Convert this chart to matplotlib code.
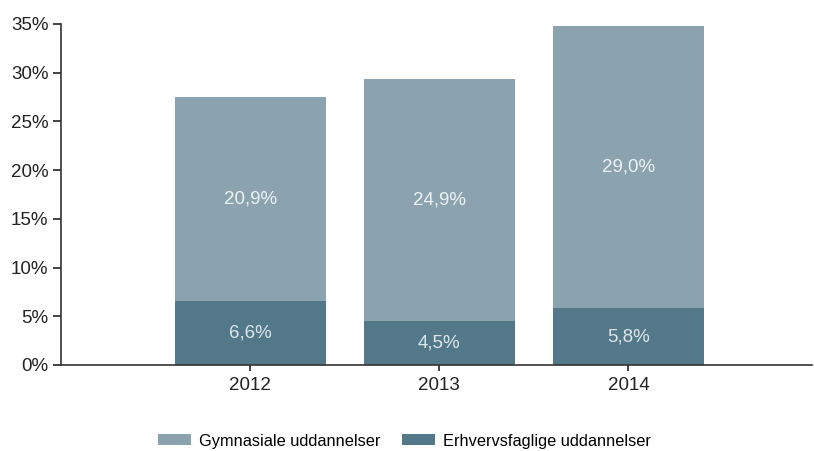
import matplotlib.pyplot as plt
import numpy as np

plt.rcParams['font.family'] = ['Liberation Sans', 'DejaVu Sans']

years = ['2012', '2013', '2014']
erhverv = [6.6, 4.5, 5.8]
gymnas = [20.9, 24.9, 29.0]
yticks = [0, 5, 10, 15, 20, 25, 30, 35]

light = '#8aa3ae'
dark = '#527889'

fig = plt.figure(figsize=(8.14, 4.51), dpi=100)
ax = fig.add_axes([0.075, 0.1907, 0.9225, 0.7561])

x = np.arange(len(years))
b1 = ax.bar(x, erhverv, width=0.8, color=dark, label='Erhvervsfaglige uddannelser')
b2 = ax.bar(x, gymnas, width=0.8, bottom=erhverv, color=light, label='Gymnasiale uddannelser')

for i in range(len(years)):
    ax.text(x[i], erhverv[i] / 2, f'{erhverv[i]:.1f}%'.replace('.', ','),
            ha='center', va='center', color='#dde6ea', fontsize=13.5)
    ax.text(x[i], erhverv[i] + gymnas[i] / 2, f'{gymnas[i]:.1f}%'.replace('.', ','),
            ha='center', va='center', color='#eef2f4', fontsize=13.5)

ax.set_xlim(-1.0, 2.97)
ax.set_ylim(0, 35)
ax.set_yticks(yticks)
ax.set_yticklabels([f'{v}%' for v in yticks])
ax.set_xticks(x)
ax.set_xticklabels(years)
ax.tick_params(axis='y', length=6, width=1.2, labelsize=13.5, colors='#222222', pad=3)
ax.tick_params(axis='x', length=4, width=1.2, labelsize=13.5, colors='#222222', pad=5)
for s in ['top', 'right']:
    ax.spines[s].set_visible(False)
for s in ['left', 'bottom']:
    ax.spines[s].set_color('#333333')
    ax.spines[s].set_linewidth(1.2)

fig.legend(handles=[b2, b1], loc='center', bbox_to_anchor=(0.497, 0.022), ncol=2,
           frameon=False, fontsize=11.8, handlelength=2.0, handleheight=0.65,
           columnspacing=1.3, handletextpad=0.5)

fig.savefig('out.png', dpi=100)
